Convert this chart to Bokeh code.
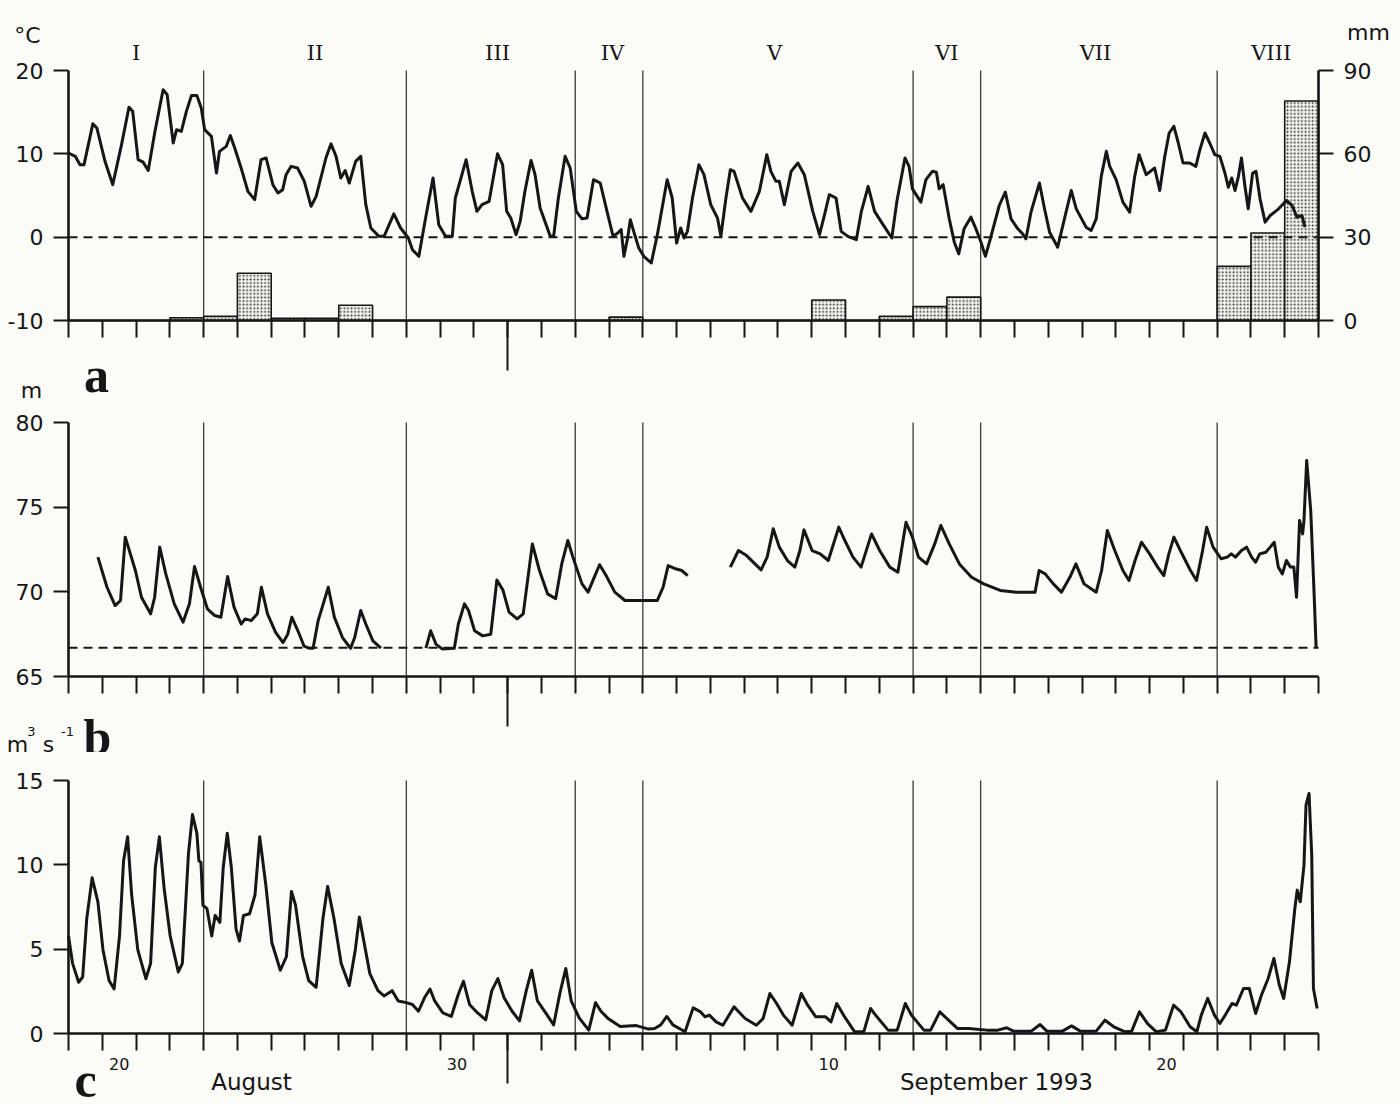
import datetime as dt
from bokeh.plotting import figure
from bokeh.models import Range1d, LinearAxis, FixedTicker, Label
from bokeh.layouts import column
from bokeh.embed import file_html
from bokeh.resources import INLINE

# ---------------- data ----------------
START = dt.date(1993, 8, 19)
END = dt.date(1993, 9, 25)
MONTH_BREAK = dt.date(1993, 9, 1)

period_bounds = [dt.date(1993, 8, 19), dt.date(1993, 8, 23), dt.date(1993, 8, 29),
                 dt.date(1993, 9, 3), dt.date(1993, 9, 5), dt.date(1993, 9, 13),
                 dt.date(1993, 9, 15), dt.date(1993, 9, 22), dt.date(1993, 9, 25)]
period_names = ["I", "II", "III", "IV", "V", "VI", "VII", "VIII"]

day_label_dates = [dt.date(1993, 8, 20), dt.date(1993, 8, 30), dt.date(1993, 9, 10), dt.date(1993, 9, 20)]
day_label_texts = ["20", "30", "10", "20"]
month_texts = ["August", "September 1993"]

temp_ticks = [-10, 0, 10, 20]
mm_ticks = [0, 30, 60, 90]
level_ticks = [65, 70, 75, 80]
q_ticks = [0, 5, 10, 15]
level_reference = 66.7

# (a) air temperature, day offset from 19 Aug 00:00
temp_day = [0.00, 0.20, 0.34, 0.46, 0.72, 0.84, 1.08, 1.31, 1.57, 1.79, 1.90, 2.06, 2.21, 2.36,
            2.56, 2.80, 2.92, 3.10, 3.20, 3.34, 3.49, 3.64, 3.80, 3.93, 4.03, 4.23, 4.38, 4.47,
            4.67, 4.79, 4.92, 5.11, 5.31, 5.51, 5.70, 5.85, 6.05, 6.20, 6.34, 6.44, 6.59, 6.78,
            6.98, 7.18, 7.33, 7.62, 7.77, 7.92, 8.06, 8.19, 8.31, 8.50, 8.65, 8.80, 8.95, 9.19,
            9.34, 9.63, 9.83, 10.06, 10.18, 10.37, 10.57, 10.79, 10.96, 11.16, 11.36, 11.45, 11.77,
            11.95, 12.09, 12.24, 12.45, 12.70, 12.85, 12.97, 13.09, 13.25, 13.37, 13.51, 13.69,
            13.81, 13.96, 14.26, 14.36, 14.50, 14.70, 14.85, 15.03, 15.20, 15.35, 15.54, 15.74,
            15.94, 16.12, 16.26, 16.36, 16.44, 16.55, 16.63, 16.73, 16.88, 17.03, 17.25, 17.43,
            17.72, 17.87, 18.00, 18.12, 18.22, 18.32, 18.47, 18.66, 18.81, 19.01, 19.21, 19.31,
            19.46, 19.59, 19.70, 19.95, 20.20, 20.45, 20.67, 20.79, 20.94, 21.04, 21.19, 21.39,
            21.59, 21.78, 22.03, 22.23, 22.38, 22.52, 22.72, 22.87, 23.07, 23.32, 23.47, 23.67,
            23.86, 24.11, 24.37, 24.52, 24.76, 24.88, 24.98, 25.23, 25.38, 25.57, 25.69, 25.77,
            25.89, 26.07, 26.22, 26.35, 26.51, 26.71, 26.86, 27.01, 27.14, 27.30, 27.55, 27.73,
            27.90, 28.10, 28.24, 28.34, 28.49, 28.74, 28.89, 29.04, 29.28, 29.48, 29.68, 29.83,
            30.12, 30.27, 30.42, 30.57, 30.72, 30.82, 31.01, 31.21, 31.41, 31.56, 31.69, 31.90,
            32.15, 32.30, 32.45, 32.58, 32.72, 32.85, 32.99, 33.19, 33.37, 33.49, 33.64, 33.78,
            33.93, 34.08, 34.23, 34.33, 34.43, 34.53, 34.63, 34.72, 34.82, 34.92, 35.05, 35.15,
            35.27, 35.42, 35.57, 35.82, 36.05, 36.22, 36.36, 36.51, 36.60]
temp_c = [10.1, 9.7, 8.7, 8.7, 13.6, 13.1, 9.1, 6.3, 11.1, 15.6, 15.1, 9.3, 9.0, 8.0,
          12.7, 17.7, 17.1, 11.3, 12.9, 12.7, 15.1, 17.0, 17.0, 15.5, 12.9, 12.1, 7.7, 10.3,
          10.9, 12.2, 10.7, 8.3, 5.5, 4.5, 9.3, 9.5, 6.3, 5.3, 5.7, 7.5, 8.5, 8.3,
          6.7, 3.7, 4.9, 9.5, 11.2, 9.7, 7.1, 8.0, 6.5, 9.1, 9.7, 3.9, 1.1, 0.1,
          0.1, 2.8, 1.1, -0.1, -1.5, -2.3, 2.3, 7.1, 1.5, 0.1, 0.1, 4.7, 9.3,
          5.5, 3.1, 3.9, 4.3, 10.0, 8.7, 3.1, 2.3, 0.3, 1.9, 5.5, 9.2,
          7.5, 3.5, 0.1, 0.1, 4.7, 9.7, 8.3, 3.1, 2.2, 2.3, 6.9, 6.5,
          3.1, 0.1, 0.5, 0.9, -2.3, -0.1, 2.1, 0.7, -1.3, -2.3, -3.1, 0.3,
          6.9, 4.7, -0.7, 1.1, -0.1, 0.7, 4.7, 8.7, 7.5, 3.9, 2.3, 0.1,
          4.7, 8.1, 7.9, 4.7, 3.1, 5.5, 9.9, 7.9, 6.7, 6.7, 3.9, 7.9,
          8.9, 7.5, 3.1, 0.3, 2.7, 5.1, 4.7, 0.7, 0.1, -0.3, 3.1, 6.1,
          3.1, 1.5, -0.1, 4.3, 9.5, 8.5, 5.8, 4.2, 6.9, 7.9, 7.8, 5.8,
          6.3, 2.2, -0.6, -2.0, 1.0, 2.4, 1.0, -0.6, -2.3, 0.0, 3.8, 5.4,
          2.2, 1.0, 0.4, -0.2, 3.0, 6.5, 3.4, 0.6, -1.2, 2.2, 5.6, 3.4,
          1.2, 0.8, 2.2, 7.3, 10.3, 8.5, 6.9, 4.2, 3.0, 7.3, 9.9, 7.5,
          8.3, 5.6, 9.7, 12.5, 13.3, 11.3, 8.9, 8.9, 8.5, 10.5, 12.5, 11.3,
          9.9, 9.7, 7.7, 6.0, 7.1, 5.6, 7.3, 9.5, 6.2, 3.4, 7.7, 7.9,
          4.6, 1.8, 2.6, 3.4, 4.4, 3.8, 2.4, 2.6, 1.2]

# (a) daily precipitation, mm (one value per day from 19 Aug)
precip_mm = [0, 0, 0, 1.0, 1.5, 17.0, 0.8, 0.8, 5.5, 0, 0, 0, 0, 0, 0, 0, 1.2, 0, 0, 0,
             0, 0, 7.4, 0, 1.5, 5.0, 8.4, 0, 0, 0, 0, 0, 0, 0, 19.5, 31.5, 79.0]

nan = float("nan")
# (b) water level, m (nan = gap in the record)
level_day = [0.87, 1.14, 1.38, 1.54, 1.68, 1.98, 2.16, 2.43, 2.55, 2.70, 2.88, 3.13, 3.39, 3.58,
             3.73, 3.91, 4.11, 4.33, 4.51, 4.71, 4.90, 5.11, 5.23, 5.41, 5.59, 5.71, 5.89, 6.13,
             6.35, 6.49, 6.61, 6.79, 6.97, 7.12, 7.24, 7.39, 7.69, 7.87, 8.11, 8.35, 8.47, 8.65,
             8.80, 9.01, 9.25, nan,
             10.58, 10.72, 10.88, 11.06, 11.42, 11.54, 11.72, 11.84, 12.02, 12.26, 12.50, 12.68,
             12.86, 13.04, 13.28, 13.46, 13.73, 13.94, 14.18, 14.42, 14.60, 14.78, 14.93, 15.20,
             15.38, 15.57, 15.72, 15.93, 16.17, 16.47, 16.83, 17.43, 17.60, 17.75, 17.97, 18.15,
             18.33, nan,
             19.59, 19.83, 20.07, 20.50, 20.68, 20.86, 21.04, 21.28, 21.50, 21.65, 21.77, 22.01,
             22.25, 22.49, 22.80, 22.98, 23.22, 23.46, 23.77, 24.01, 24.31, 24.55, 24.79, 24.98,
             25.16, 25.40, 25.64, 25.82, 26.07, 26.37, 26.73, 27.09, 27.58, 28.06, 28.61, 28.73,
             28.91, 29.15, 29.39, 29.64, 29.82, 30.06, 30.42, 30.58, 30.75, 30.97, 31.21, 31.39,
             31.57, 31.76, 32.00, 32.24, 32.42, 32.57, 32.72, 32.91, 33.21, 33.39, 33.57, 33.69,
             33.88, 34.12, 34.30, 34.42, 34.54, 34.72, 34.87, 35.02, 35.14, 35.26, 35.44, 35.57,
             35.69, 35.81, 35.93, 36.05, 36.17, 36.27, 36.35, 36.44, 36.53, 36.57, 36.65, 36.77,
             36.87, 36.93]
level_m = [72.05, 70.27, 69.19, 69.49, 73.23, 71.26, 69.68, 68.70, 69.68, 72.64, 71.06, 69.29, 68.21, 69.29,
           71.50, 70.27, 69.00, 68.60, 68.50, 70.90, 69.10, 68.10, 68.40, 68.30, 68.70, 70.27, 68.70, 67.60,
           67.00, 67.50, 68.50, 67.70, 66.80, 66.67, 66.67, 68.30, 70.27, 68.50, 67.30, 66.67, 67.30, 68.90,
           68.10, 67.10, 66.67, nan,
           66.67, 67.70, 66.90, 66.63, 66.67, 68.10, 69.29, 68.90, 67.70, 67.40, 67.50, 70.70,
           70.10, 68.80, 68.40, 68.70, 72.83, 71.26, 69.88, 69.59, 71.65, 73.03, 72.05, 70.47,
           69.98, 70.90, 71.60, 70.90, 69.98, 69.49, 69.49, 69.49, 70.27, 71.55, 71.36, 71.26,
           70.96, nan,
           71.46, 72.44, 72.14, 71.30, 72.05, 73.72, 72.64, 71.85, 71.46, 72.44, 73.66, 72.44,
           72.24, 71.85, 73.82, 73.03, 72.05, 71.46, 73.42, 72.44, 71.46, 71.16, 74.11, 73.23,
           72.05, 71.65, 72.83, 73.92, 72.83, 71.65, 70.86, 70.47, 70.08, 69.98, 69.98, 71.26,
           71.06, 70.47, 69.98, 70.86, 71.65, 70.47, 69.98, 71.26, 73.62, 72.44, 71.26, 70.67,
           71.85, 72.93, 72.24, 71.46, 70.96, 72.24, 73.23, 72.44, 71.26, 70.67, 72.44, 73.82,
           72.64, 71.95, 72.05, 72.24, 72.05, 72.44, 72.64, 72.05, 71.75, 72.24, 72.34, 72.64,
           72.93, 71.46, 71.06, 71.85, 71.46, 71.46, 69.68, 74.21, 73.42, 74.21, 77.76, 74.80,
           69.88, 66.69]

# (c) discharge, m3/s
q_day = [0.00, 0.12, 0.30, 0.42, 0.54, 0.70, 0.87, 1.02, 1.20, 1.35, 1.51, 1.63, 1.75, 1.87,
         2.05, 2.29, 2.43, 2.57, 2.69, 2.83, 3.01, 3.25, 3.37, 3.55, 3.67, 3.80, 3.86, 3.92,
         3.98, 4.10, 4.24, 4.34, 4.48, 4.58, 4.70, 4.82, 4.96, 5.06, 5.18, 5.36, 5.52, 5.66,
         5.84, 6.02, 6.27, 6.45, 6.60, 6.72, 6.93, 7.11, 7.33, 7.53, 7.67, 7.86, 8.07, 8.31,
         8.49, 8.61, 8.77, 8.92, 9.16, 9.34, 9.58, 9.76, 10.00, 10.18, 10.36, 10.54, 10.70,
         10.84, 11.08, 11.33, 11.54, 11.69, 11.87, 12.11, 12.35, 12.53, 12.71, 12.89, 13.13,
         13.35, 13.55, 13.71, 13.88, 14.16, 14.36, 14.55, 14.72, 14.88, 15.12, 15.40, 15.60,
         15.76, 15.96, 16.33, 16.81, 17.17, 17.35, 17.53, 17.71, 17.89, 18.25, 18.49,
         18.71, 18.84, 18.97, 19.17, 19.37, 19.70, 20.03, 20.36, 20.56, 20.76, 20.96, 21.16,
         21.42, 21.69, 21.88, 22.12, 22.41, 22.57, 22.74, 22.94, 23.27, 23.54, 23.74, 23.93,
         24.26, 24.53, 24.77, 24.95, 25.32, 25.52, 25.79, 26.05, 26.31, 26.65, 27.18, 27.51,
         27.77, 27.97, 28.50, 28.76, 28.96, 29.42, 29.69, 29.95, 30.42, 30.68, 30.94, 31.28,
         31.47, 31.70, 31.94, 32.20, 32.47, 32.71, 32.93, 33.20, 33.40, 33.53, 33.72, 33.92,
         34.08, 34.24, 34.44, 34.57, 34.78, 34.95, 35.14, 35.31, 35.51, 35.68, 35.84, 35.97,
         36.14, 36.30, 36.37, 36.46, 36.57, 36.63, 36.72, 36.80, 36.85, 36.96]
q_m3s = [5.78, 4.16, 3.04, 3.35, 6.80, 9.23, 7.80, 4.97, 3.14, 2.64, 5.78, 10.24, 11.66, 8.21,
         4.97, 3.25, 4.16, 9.84, 11.66, 8.62, 5.78, 3.65, 4.16, 10.65, 12.98, 11.87, 10.24, 10.14,
         7.60, 7.40, 5.78, 7.00, 6.59, 9.84, 11.87, 9.84, 6.19, 5.48, 7.00, 7.10, 8.21, 11.66,
         8.82, 5.38, 3.75, 4.56, 8.42, 7.61, 4.56, 3.14, 2.74, 6.80, 8.72, 6.80, 4.16, 2.84,
         4.97, 6.90, 5.17, 3.55, 2.54, 2.23, 2.54, 1.93, 1.83, 1.72, 1.32, 2.13, 2.64,
         1.93, 1.22, 1.01, 2.33, 3.10, 1.72, 1.22, 0.81, 2.54, 3.25, 2.13, 1.32,
         0.75, 2.54, 3.75, 1.93, 1.12, 0.51, 2.43, 3.85, 1.93, 0.91, 0.20, 1.83,
         1.32, 0.91, 0.41, 0.47, 0.26, 0.30, 0.51, 1.01, 0.51, 0.10, 1.52,
         1.28, 0.99, 1.09, 0.69, 0.49, 1.58, 0.89, 0.49, 0.89, 2.37, 1.78, 1.09,
         0.49, 2.37, 1.68, 0.99, 0.99, 0.69, 1.78, 1.09, 0.10, 0.10, 1.48, 0.99,
         0.20, 0.20, 1.78, 1.09, 0.20, 0.20, 1.28, 0.79, 0.30, 0.30, 0.20, 0.20,
         0.34, 0.14, 0.14, 0.53, 0.14, 0.14, 0.45, 0.14, 0.14, 0.79, 0.40, 0.10,
         0.14, 1.28, 0.59, 0.10, 0.20, 1.68, 1.28, 0.40, 0.10, 1.09, 2.08, 1.09,
         0.59, 1.09, 1.78, 1.68, 2.67, 2.67, 1.19, 2.27, 3.26, 4.45, 2.87, 2.08,
         4.25, 7.41, 8.50, 7.81, 9.98, 13.54, 14.23, 10.57, 2.67, 1.48]

# ---------------- layout / style ----------------
INK = "#161616"
BG = "#fbfbf8"
SANS = "DejaVu Sans"
SERIF = "DejaVu Serif"
BOLD_SERIF = "Liberation Serif"
W = 1400            # canvas width
X0_PX = 68          # canvas x of the first day boundary
DATA_W = 1250       # pixel width of the 37-day span
# where the period numerals sit (days), as placed in the original figure
numeral_pos = [2.0, 7.3, 12.7, 16.1, 20.9, 26.0, 30.4, 35.6]


def dnum(d):
    return (d - START).days


NDAYS = dnum(END)
DAY_PX = DATA_W / NDAYS
day_ticks = list(range(0, NDAYS + 1))
month_tick = dnum(MONTH_BREAK)
period_days = [dnum(d) for d in period_bounds]
x_range = Range1d(-X0_PX / DAY_PX, (W - X0_PX) / DAY_PX)


def style_axis(ax, size="22px"):
    ax.axis_line_width = 2.6
    ax.axis_line_color = INK
    ax.major_tick_line_width = 2
    ax.major_tick_line_color = INK
    ax.minor_tick_line_width = 2
    ax.minor_tick_line_color = INK
    ax.major_label_text_font = SANS
    ax.major_label_text_font_size = size
    ax.major_label_text_color = INK


def make_panel(H, top_px, data_px, lo, hi, yticks):
    scale = data_px / (hi - lo)
    bottom_px = H - top_px - data_px
    yr = Range1d(lo - bottom_px / scale, hi + top_px / scale)
    p = figure(width=W, height=H, x_range=x_range, y_range=yr, min_border=0,
               output_backend="svg", toolbar_location=None,
               background_fill_color=BG, border_fill_color=BG, outline_line_color=None)
    p.grid.visible = False
    ax = p.xaxis[0]
    style_axis(ax)
    ax.fixed_location = lo
    ax.bounds = (0, NDAYS)
    ax.ticker = FixedTicker(ticks=[month_tick], minor_ticks=day_ticks)
    ax.major_tick_out = 50
    ax.major_tick_in = 0
    ax.minor_tick_out = 17
    ax.minor_tick_in = 0
    ax.major_label_overrides = {month_tick: ""}
    ax.major_label_text_font_size = "1px"
    ay = p.yaxis[0]
    style_axis(ay)
    ay.fixed_location = 0
    ay.bounds = (lo, hi)
    ay.ticker = FixedTicker(ticks=yticks)
    ay.major_tick_out = 15
    ay.major_tick_in = 0
    ay.minor_tick_out = 0
    ay.minor_tick_in = 0
    ay.major_label_standoff = 10
    ay.major_label_overrides = {t: str(t) for t in yticks}
    inner = period_days[1:-1]
    p.segment(x0=inner, y0=lo, x1=inner, y1=hi, line_color="#3a3a3a", line_width=1.3)
    return p


def page_label(p, top, H, text, px, py, font=SANS, size="22px", style="normal",
               align="center", baseline="alphabetic", x_data=None):
    if x_data is None:
        x, xu = px, "screen"
    else:
        x, xu = x_data, "data"
    p.add_layout(Label(x=x, y=top + H - py, x_units=xu, y_units="screen", text=text,
                       text_font=font, text_font_size=size, text_font_style=style,
                       text_align=align, text_baseline=baseline, text_color=INK))


# ---------------- panel a ----------------
HA, TOPA = 400, 0
pa = make_panel(HA, 70, 250, temp_ticks[0], temp_ticks[-1], temp_ticks)
k = (mm_ticks[-1] - mm_ticks[0]) / (temp_ticks[-1] - temp_ticks[0])
pa.extra_y_ranges = {"mm": Range1d(mm_ticks[0] + (pa.y_range.start - temp_ticks[0]) * k,
                                   mm_ticks[0] + (pa.y_range.end - temp_ticks[0]) * k)}
ar = LinearAxis(y_range_name="mm", ticker=FixedTicker(ticks=mm_ticks))
style_axis(ar)
ar.fixed_location = NDAYS
ar.bounds = (mm_ticks[0], mm_ticks[-1])
ar.major_tick_out = 15
ar.major_tick_in = 0
ar.minor_tick_out = 0
ar.minor_tick_in = 0
ar.major_label_standoff = 10
pa.add_layout(ar, "right")

pa.vbar(x=[d + 0.5 for d in range(len(precip_mm))], width=1.0, top=precip_mm, bottom=0,
        y_range_name="mm", fill_color="#efefec", line_color=INK, line_width=1.6,
        hatch_pattern="dot", hatch_scale=3.6, hatch_weight=2.2, hatch_color="#1e1e1e")
pa.segment(x0=0, y0=0, x1=NDAYS, y1=0, line_color=INK, line_width=2, line_dash="9 6")
pa.line(temp_day, temp_c, line_color=INK, line_width=3, line_join="round")

for name, xpos in zip(period_names, numeral_pos):
    page_label(pa, TOPA, HA, name, 0, 52, font=SERIF, size="21px", x_data=xpos)
page_label(pa, TOPA, HA, "°C", 27, 35)
page_label(pa, TOPA, HA, "mm", 1368, 32)
page_label(pa, TOPA, HA, "a", 96, 374, font=BOLD_SERIF, size="50px", style="bold")
page_label(pa, TOPA, HA, "m", 31, 390)

# ---------------- panel b ----------------
HB, TOPB = 352, HA
pb = make_panel(HB, 422 - HA, 254, level_ticks[0], level_ticks[-1], level_ticks)
pb.segment(x0=0, y0=level_reference, x1=NDAYS, y1=level_reference, line_color=INK,
           line_width=2, line_dash="9 6")
pb.line(level_day, level_m, line_color=INK, line_width=3, line_join="round")
page_label(pb, TOPB, HB, "b", 97, 736, font=BOLD_SERIF, size="50px", style="bold")
page_label(pb, TOPB, HB, "m", 17, 744)
page_label(pb, TOPB, HB, "3", 31, 731, size="13px")
page_label(pb, TOPB, HB, "s", 48, 744)
page_label(pb, TOPB, HB, "-1", 67, 731, size="13px")

# ---------------- panel c ----------------
TOPC = HA + HB
HC = 1104 - TOPC
pc = make_panel(HC, 780 - TOPC, 253, q_ticks[0], q_ticks[-1], q_ticks)
pc.line(q_day, q_m3s, line_color=INK, line_width=3, line_join="round")
for d, t in zip(day_label_dates, day_label_texts):
    page_label(pc, TOPC, HC, t, 0, 1063, size="16px", x_data=dnum(d) + 0.5)
page_label(pc, TOPC, HC, month_texts[0], 251, 1081, size="23px")
page_label(pc, TOPC, HC, month_texts[1], 996, 1081, size="23px")
page_label(pc, TOPC, HC, "c", 85, 1079, font=BOLD_SERIF, size="50px", style="bold")

layout = column(pa, pb, pc, spacing=0)
open("out.html", "w").write(file_html(layout, INLINE))
